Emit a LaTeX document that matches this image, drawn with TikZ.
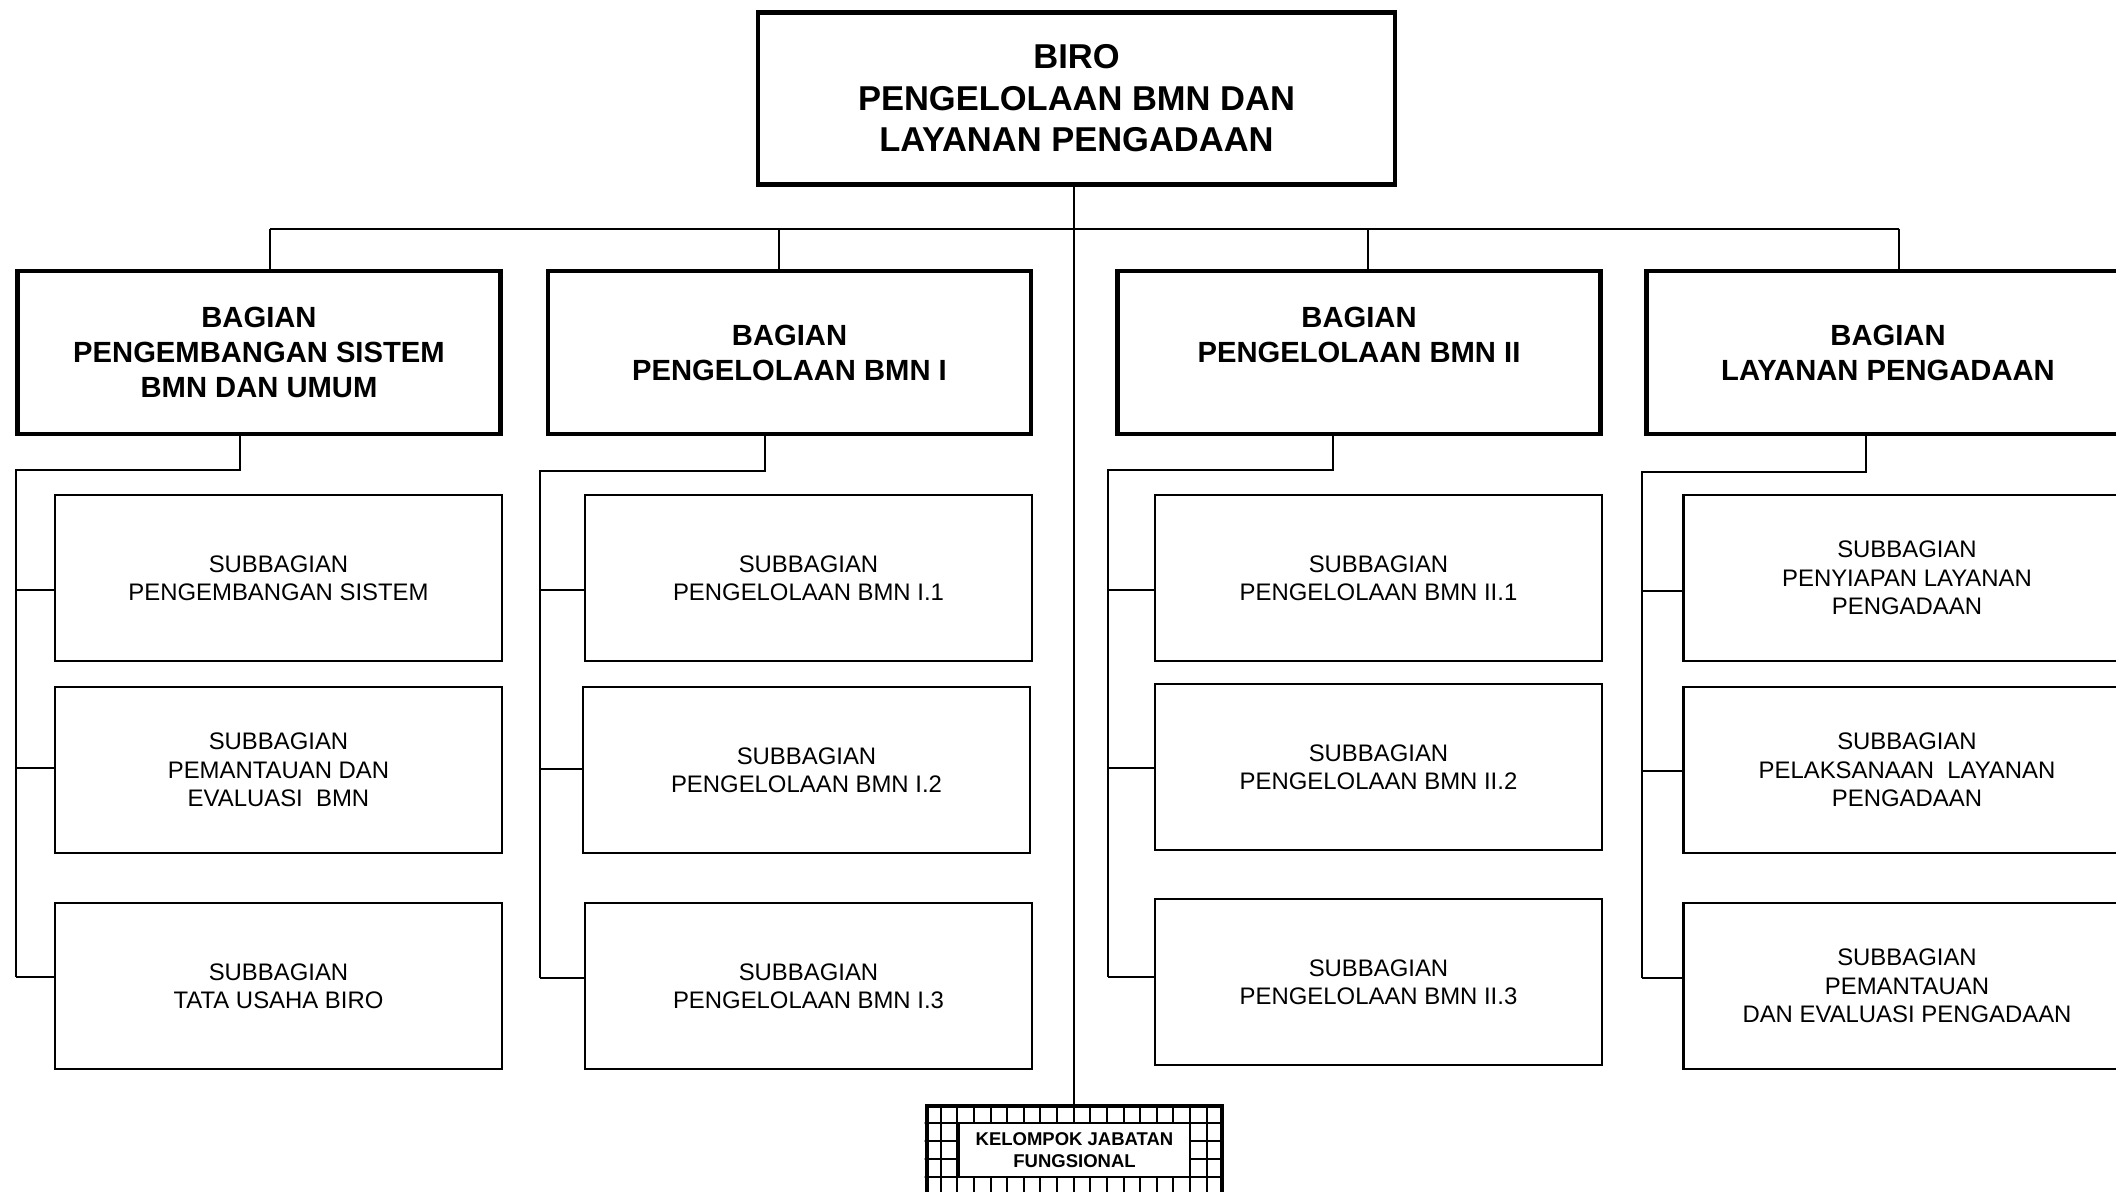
\documentclass[tikz,border=0pt]{standalone}
\usepackage{fontspec}
\setmainfont{Liberation Sans}
\begin{document}
\begin{tikzpicture}[x=0.5pt,y=-0.5pt,
  birobox/.style={draw, line width=2.3pt, rectangle, align=center, inner sep=0pt,
    minimum width=318.5pt, minimum height=86pt,
    font=\bfseries\fontsize{17.25}{20.75}\selectfont},
  bagbox/.style={draw, line width=2.3pt, rectangle, align=center, inner sep=0pt,
    minimum width=241.5pt, minimum height=81.4pt,
    font=\bfseries\fontsize{14.6}{17.5}\selectfont},
  subbox/.style={draw, line width=1.3pt, rectangle, align=center, inner sep=0pt,
    minimum width=223.5pt, minimum height=83pt,
    font=\fontsize{11.95}{14.15}\selectfont},
  link/.style={line width=1.3pt},
  gridline/.style={line width=1pt},
]
\clip (0,0) rectangle (2116,1192);
\fill[white] (0,0) rectangle (2116,1192);

% head of the bureau
\node[birobox] (biro) at (1076.5,98.5) {BIRO\\PENGELOLAAN BMN DAN\\LAYANAN PENGADAAN};

% divisions
\node[bagbox] (bag1) at (259,352.5) {BAGIAN\\PENGEMBANGAN SISTEM\\BMN DAN UMUM};
\node[bagbox] (bag2) at (789.5,352.5) {BAGIAN\\PENGELOLAAN BMN I};
\node[bagbox] (bag3) at (1359,352.5) {BAGIAN\\PENGELOLAAN BMN II\\\mbox{}};
\node[bagbox] (bag4) at (1888,352.5) {BAGIAN\\LAYANAN PENGADAAN};

% sub-divisions
\node[subbox] (s11) at (278.5,578) {SUBBAGIAN\\PENGEMBANGAN SISTEM};
\node[subbox] (s12) at (278.5,770) {SUBBAGIAN\\PEMANTAUAN DAN\\EVALUASI\ \ BMN};
\node[subbox] (s13) at (278.5,986) {SUBBAGIAN\\TATA USAHA BIRO};

\node[subbox] (s21) at (808.5,578) {SUBBAGIAN\\PENGELOLAAN BMN I.1};
\node[subbox] (s22) at (806.5,770) {SUBBAGIAN\\PENGELOLAAN BMN I.2};
\node[subbox] (s23) at (808.5,986) {SUBBAGIAN\\PENGELOLAAN BMN I.3};

\node[subbox] (s31) at (1378.5,578) {SUBBAGIAN\\PENGELOLAAN BMN II.1};
\node[subbox] (s32) at (1378.5,767) {SUBBAGIAN\\PENGELOLAAN BMN II.2};
\node[subbox] (s33) at (1378.5,982) {SUBBAGIAN\\PENGELOLAAN BMN II.3};

\node[subbox] (s41) at (1907,578) {SUBBAGIAN\\PENYIAPAN LAYANAN\\PENGADAAN};
\node[subbox] (s42) at (1907,770) {SUBBAGIAN\\PELAKSANAAN\ \ LAYANAN\\PENGADAAN};
\node[subbox] (s43) at (1907,986) {SUBBAGIAN\\PEMANTAUAN\\DAN EVALUASI PENGADAAN};

% functional group: frame with a grid border
\node[draw, line width=2pt, fill=white, minimum width=147.5pt, minimum height=80pt, inner sep=0pt]
  (kel) at (1074,1186) {};
\begin{scope}
  \clip (kel.south west) rectangle (kel.north east);
  \foreach \k in {1,...,17} \draw[gridline] (924+16.63*\k,1100) -- (924+16.63*\k,1270);
  \foreach \r in {1123,1141,1159,1177} \draw[gridline] (900,\r) -- (1250,\r);
\end{scope}
\node[draw, line width=1pt, fill=white, minimum width=115.5pt, minimum height=27pt, inner sep=0pt,
  align=center, font=\bfseries\fontsize{9.25}{10.8}\selectfont]
  (kelin) at (1074.5,1150) {KELOMPOK JABATAN\\FUNGSIONAL};

% main trunk and bus
\coordinate (b1) at (270,229);
\coordinate (b2) at (779,229);
\coordinate (b3) at (1368,229);
\coordinate (b4) at (1899,229);
\draw[link] (kel.north |- biro.south) -- (kel.north);
\draw[link] (b1) -- (b4);
\draw[link] (b1) -- (b1 |- bag1.north);
\draw[link] (b2) -- (b2 |- bag2.north);
\draw[link] (b3) -- (b3 |- bag3.north);
\draw[link] (b4) -- (b4 |- bag4.north);

% division spines
\coordinate (d1) at (240,470);  \coordinate (p1) at (16,470);   \coordinate (e1) at (16,977);
\coordinate (d2) at (765,471);  \coordinate (p2) at (540,471);  \coordinate (e2) at (540,978);
\coordinate (d3) at (1333,470); \coordinate (p3) at (1108,470); \coordinate (e3) at (1108,977);
\coordinate (d4) at (1866,472); \coordinate (p4) at (1642,472); \coordinate (e4) at (1642,978);
\draw[link] (d1 |- bag1.south) -- (d1) -- (p1) -- (e1);
\draw[link] (d2 |- bag2.south) -- (d2) -- (p2) -- (e2);
\draw[link] (d3 |- bag3.south) -- (d3) -- (p3) -- (e3);
\draw[link] (d4 |- bag4.south) -- (d4) -- (p4) -- (e4);

% ticks into the sub-divisions
\coordinate (k11) at (16,590);   \coordinate (k12) at (16,768);   \coordinate (k13) at (e1);
\coordinate (k21) at (540,590);  \coordinate (k22) at (540,769);  \coordinate (k23) at (e2);
\coordinate (k31) at (1108,590); \coordinate (k32) at (1108,768); \coordinate (k33) at (e3);
\coordinate (k41) at (1642,591); \coordinate (k42) at (1642,771); \coordinate (k43) at (e4);
\foreach \c in {1,2,3,4}{
  \foreach \r in {1,2,3}{
    \draw[link] (k\c\r) -- (k\c\r -| s\c\r.west);
  }
}
\end{tikzpicture}
\end{document}
